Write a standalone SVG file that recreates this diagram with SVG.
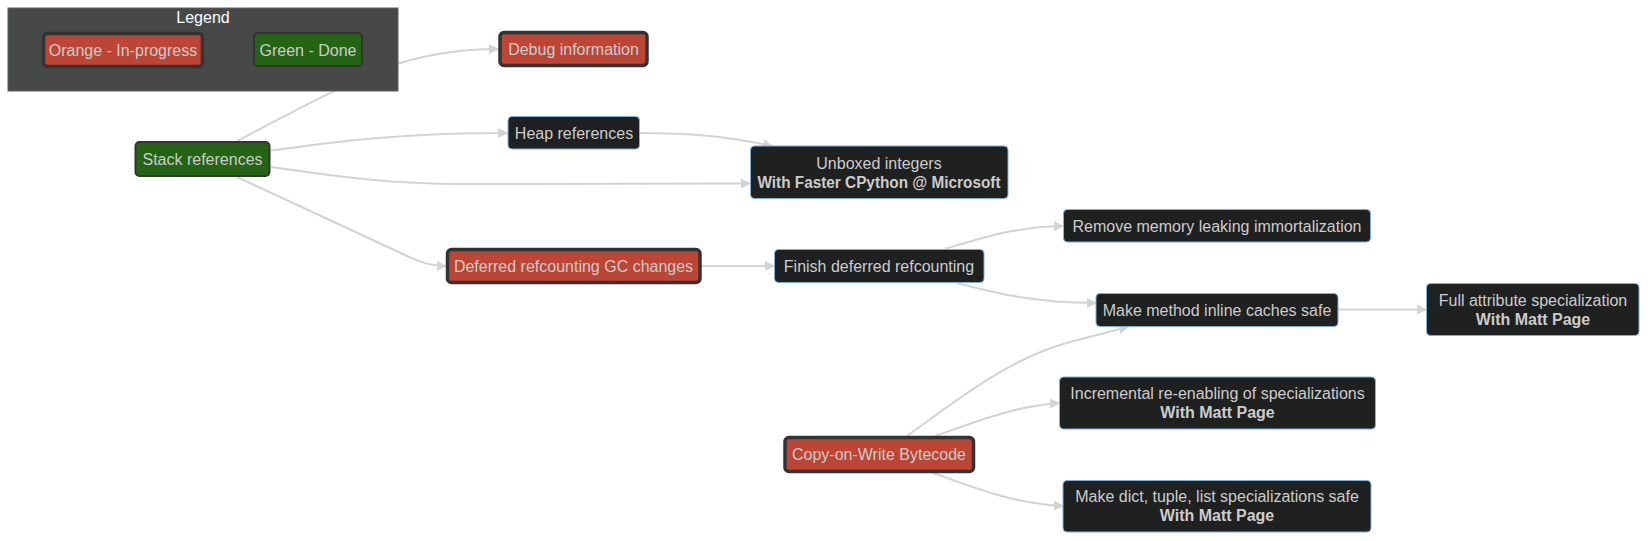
<svg xmlns="http://www.w3.org/2000/svg" width="1648" height="541" viewBox="0 0 1648 541">
<style>
  .bg { fill: #ffffff; }
  .edge { fill: none; stroke: #d3d3d3; stroke-width: 2; }
  .dark rect { fill: #1f2020; stroke: #81b1db; stroke-width: 1; }
  .orange rect { fill: #bd4535; stroke: #333333; stroke-width: 3.5; }
  .green rect { fill: #246414; stroke: #333333; stroke-width: 2; }
  text { font-family: "Liberation Sans", Arial, sans-serif; font-size: 16px; fill: #cccccc; text-anchor: middle; }
  .b { font-weight: bold; }
  .cluster rect { fill: #474949; stroke: #5e6060; stroke-width: 1; }
  .cluster text { fill: #f9fffe; }
</style>
<defs>
  <marker id="arrow" viewBox="0 0 10 10" refX="9" refY="5" markerWidth="10" markerHeight="10" markerUnits="userSpaceOnUse" orient="auto">
    <path d="M0,0 L10,5 L0,10 z" fill="#d3d3d3"/>
  </marker>
</defs>
<rect class="bg" x="0" y="0" width="1648" height="541"/>

<g id="connectors">
  <path class="edge" marker-end="url(#arrow)" d="M237,141 C 300,108 360,76 400,63 C 430,54 460,49 498,49"/>
  <path class="edge" marker-end="url(#arrow)" d="M271,150.5 C 340,141 400,133 507,133"/>
  <path class="edge" marker-end="url(#arrow)" d="M271,167 C 330,175 380,184 460,184 L 750,183.5"/>
  <path class="edge" marker-end="url(#arrow)" d="M237,177 L 405,255 C 420,262 430,266 446,266"/>
  <path class="edge" marker-end="url(#arrow)" d="M640,133 C 690,133 725,136 772,146"/>
  <path class="edge" marker-end="url(#arrow)" d="M701.5,266 L 774,266"/>
  <path class="edge" marker-end="url(#arrow)" d="M945,249 C 985,237 1015,227 1063,226"/>
  <path class="edge" marker-end="url(#arrow)" d="M957,283 C 995,293 1035,303 1096,303"/>
  <path class="edge" marker-end="url(#arrow)" d="M1338,309.5 L 1426,309.5"/>
  <path class="edge" marker-end="url(#arrow)" d="M907,436 C 960,398 1010,358 1070,342 L 1128,327"/>
  <path class="edge" marker-end="url(#arrow)" d="M935,436 C 975,422 1015,406 1059,403"/>
  <path class="edge" marker-end="url(#arrow)" d="M933,473 C 975,488 1015,504 1063,506"/>
</g>

<g id="legend" class="cluster">
  <rect x="8" y="8" width="390" height="83"/>
  <text x="203" y="22.5">Legend</text>
</g>
<g id="legend-orange" class="orange">
  <rect x="43.5" y="33.5" width="159" height="33" rx="4"/>
  <text x="123" y="55.5">Orange - In-progress</text>
</g>
<g id="legend-green" class="green">
  <rect x="254" y="33" width="108" height="33" rx="4"/>
  <text x="308" y="55.5">Green - Done</text>
</g>

<g id="debug-information" class="orange">
  <rect x="500" y="32.5" width="147" height="33" rx="4"/>
  <text x="573.5" y="54.5">Debug information</text>
</g>
<g id="heap-references" class="dark">
  <rect x="508" y="116.5" width="131.5" height="32.5" rx="4"/>
  <text x="574" y="138.5">Heap references</text>
</g>
<g id="unboxed-integers" class="dark">
  <rect x="750.5" y="146" width="257.5" height="52.5" rx="4"/>
  <text x="879" y="168.5">Unboxed integers</text>
  <text class="b" x="879" y="187.5" textLength="243" lengthAdjust="spacingAndGlyphs">With Faster CPython @ Microsoft</text>
</g>
<g id="stack-references" class="green">
  <rect x="135.5" y="142" width="134" height="34" rx="4"/>
  <text x="202.5" y="164.5">Stack references</text>
</g>
<g id="deferred-refcounting-gc" class="orange">
  <rect x="447.5" y="249.5" width="252.5" height="33" rx="4"/>
  <text x="573.5" y="271.5">Deferred refcounting GC changes</text>
</g>
<g id="finish-deferred-refcounting" class="dark">
  <rect x="774.5" y="249.5" width="209.5" height="33" rx="4"/>
  <text x="879" y="271.5">Finish deferred refcounting</text>
</g>
<g id="remove-memory-leaking" class="dark">
  <rect x="1063.5" y="209.5" width="307" height="32.5" rx="4"/>
  <text x="1217" y="231.5">Remove memory leaking immortalization</text>
</g>
<g id="make-method-inline-caches-safe" class="dark">
  <rect x="1096" y="293.5" width="242" height="33" rx="4"/>
  <text x="1217" y="315.5">Make method inline caches safe</text>
</g>
<g id="full-attribute-specialization" class="dark">
  <rect x="1426.5" y="283.5" width="212.5" height="52" rx="4"/>
  <text x="1533" y="305.5">Full attribute specialization</text>
  <text class="b" x="1533" y="324.5">With Matt Page</text>
</g>
<g id="copy-on-write-bytecode" class="orange">
  <rect x="785" y="437.5" width="188.5" height="34" rx="4"/>
  <text x="879" y="460">Copy-on-Write Bytecode</text>
</g>
<g id="incremental-re-enabling" class="dark">
  <rect x="1059.5" y="377" width="316" height="52" rx="4"/>
  <text x="1217.5" y="399">Incremental re-enabling of specializations</text>
  <text class="b" x="1217.5" y="418">With Matt Page</text>
</g>
<g id="make-dict-tuple-list-safe" class="dark">
  <rect x="1063" y="480.5" width="308" height="51.5" rx="4"/>
  <text x="1217" y="502">Make dict, tuple, list specializations safe</text>
  <text class="b" x="1217" y="520.5">With Matt Page</text>
</g>
</svg>
